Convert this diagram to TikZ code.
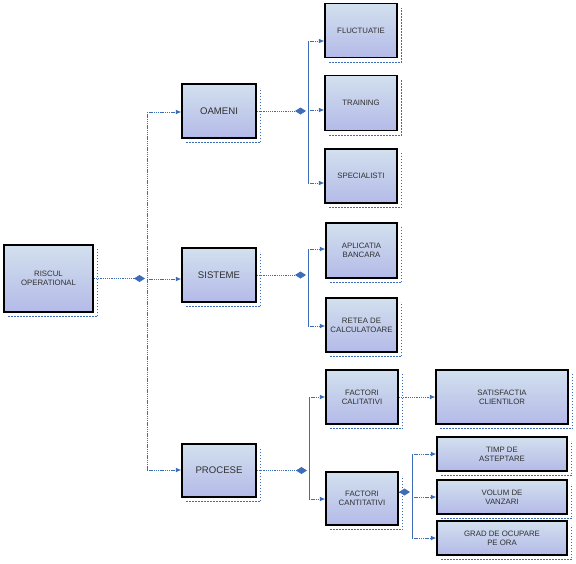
\documentclass[tikz,border=0pt]{standalone}
\usepackage{fontspec}
\setmainfont{Liberation Sans}
\usetikzlibrary{arrows.meta,calc}
\definecolor{lnblue}{HTML}{3D6DB8}
\definecolor{fillA}{HTML}{D2E0EE}
\definecolor{fillB}{HTML}{B4BAE8}
\definecolor{txt}{HTML}{303030}
\tikzset{
  box/.style={draw=black, line width=1.5pt, top color=fillA, bottom color=fillB,
    inner sep=1pt, align=center, text=txt, font=\fontsize{7.8}{9.3}\selectfont},
  bigtxt/.style={font=\fontsize{9.6}{11}\selectfont},
  shadowline/.style={draw=lnblue, line width=1.3pt, dash pattern=on 1.4pt off 1.6pt},
  dline/.style={draw=lnblue, line width=0.9pt, dash pattern=on 1.3pt off 0.9pt},
  busline/.style={draw=lnblue, line width=0.8pt},
  arr/.style={-{Latex[length=5.5pt,width=5pt]}},
  dia/.style={-{Diamond[length=11pt,width=7pt]}, shorten >=2pt}
}
\begin{document}
\begin{tikzpicture}[x=1pt,y=-1pt]
\useasboundingbox (0,0) rectangle (576,563);
% boxes
\node[box, minimum width=89pt, minimum height=67pt] (risc) at (48.5,278.5) {RISCUL\\OPERATIONAL};
\node[box, bigtxt, minimum width=74pt, minimum height=54pt] (oam) at (219,111) {OAMENI};
\node[box, bigtxt, minimum width=74pt, minimum height=54pt] (sis) at (219,275) {SISTEME};
\node[box, bigtxt, minimum width=74pt, minimum height=53pt] (proc) at (219,470.5) {PROCESE};
\node[box, minimum width=72pt, minimum height=54pt] (fluc) at (361,30.5) {FLUCTUATIE};
\node[box, minimum width=72pt, minimum height=55pt] (trai) at (361,103) {TRAINING};
\node[box, minimum width=72pt, minimum height=54pt] (spec) at (361,176) {SPECIALISTI};
\node[box, minimum width=71pt, minimum height=55pt] (apl) at (361.5,250.5) {APLICATIA\\BANCARA};
\node[box, minimum width=71pt, minimum height=54pt] (ret) at (361.5,325) {RETEA DE\\CALCULATOARE};
\node[box, minimum width=72pt, minimum height=54pt] (fcal) at (362,397) {FACTORI\\CALITATIVI};
\node[box, minimum width=72pt, minimum height=53pt] (fcant) at (362,498.5) {FACTORI\\CANTITATIVI};
\node[box, minimum width=132pt, minimum height=54pt] (sat) at (502,397) {SATISFACTIA\\CLIENTILOR};
\node[box, minimum width=130pt, minimum height=34pt] (timp) at (502,454) {TIMP DE\\ASTEPTARE};
\node[box, minimum width=130pt, minimum height=34pt] (vol) at (502,497) {VOLUM DE\\VANZARI};
\node[box, minimum width=130pt, minimum height=34pt] (grad) at (502,538) {GRAD DE OCUPARE\\PE ORA};
% dotted shadows
\foreach \n in {risc,oam,sis,proc,fluc,trai,spec,apl,ret,fcal,fcant,sat,timp,vol,grad}
  \draw[shadowline] ($(\n.south west)+(5,4)$) -- ($(\n.south east)+(4,4)$) -- ($(\n.north east)+(4,5)$);
% level 1
\coordinate (b0) at (147,279);
\coordinate (b0t) at (147,112);
\coordinate (b0b) at (147,470);
\draw[dline] (b0t) -- (b0b);
\draw[dline,dia] (risc.east) -- (risc.east -| b0);
\draw[dline,arr] (b0t) -- (oam.west |- b0t);
\draw[dline,arr] (b0) -- (sis.west |- b0);
\draw[dline,arr] (b0b) -- (proc.west |- b0b);
% OAMENI
\coordinate (b1t) at (308,41);
\coordinate (b1m) at (308,110);
\coordinate (b1b) at (308,183);
\draw[busline] (b1t) -- (b1b);
\draw[dline,dia] (oam.east) -- (oam.east -| b1m);
\draw[dline,arr] (b1t) -- (fluc.west |- b1t);
\draw[dline,arr] (b1m) -- (trai.west |- b1m);
\draw[dline,arr] (b1b) -- (spec.west |- b1b);
% SISTEME
\coordinate (b2t) at (308,249);
\coordinate (b2b) at (308,326);
\draw[busline] (b2t) -- (b2b);
\draw[dline,dia] (sis.east) -- (sis.east -| b2t);
\draw[dline,arr] (b2t) -- (apl.west |- b2t);
\draw[dline,arr] (b2b) -- (ret.west |- b2b);
% PROCESE
\coordinate (b3t) at (309,397);
\coordinate (b3b) at (309,499);
\draw[busline] (b3t) -- (b3b);
\draw[dline,dia] (proc.east) -- (proc.east -| b3t);
\draw[dline,arr] (b3t) -- (fcal.west |- b3t);
\draw[dline,arr] (b3b) -- (fcant.west |- b3b);
% factori calitativi
\draw[dline,arr] (fcal.east) -- (sat.west |- fcal.east);
% factori cantitativi
\coordinate (b4t) at (412,454);
\coordinate (b4b) at (412,538);
\coordinate (b4m) at (412,492);
\draw[busline] (b4t) -- (b4b);
\draw[dline,dia] (fcant.east |- b4m) -- (b4m);
\draw[dline,arr] (b4t) -- (timp.west |- b4t);
\draw[dline,arr] (vol.west -| b4t) -- (vol.west);
\draw[dline,arr] (b4b) -- (grad.west |- b4b);
\end{tikzpicture}
\end{document}
